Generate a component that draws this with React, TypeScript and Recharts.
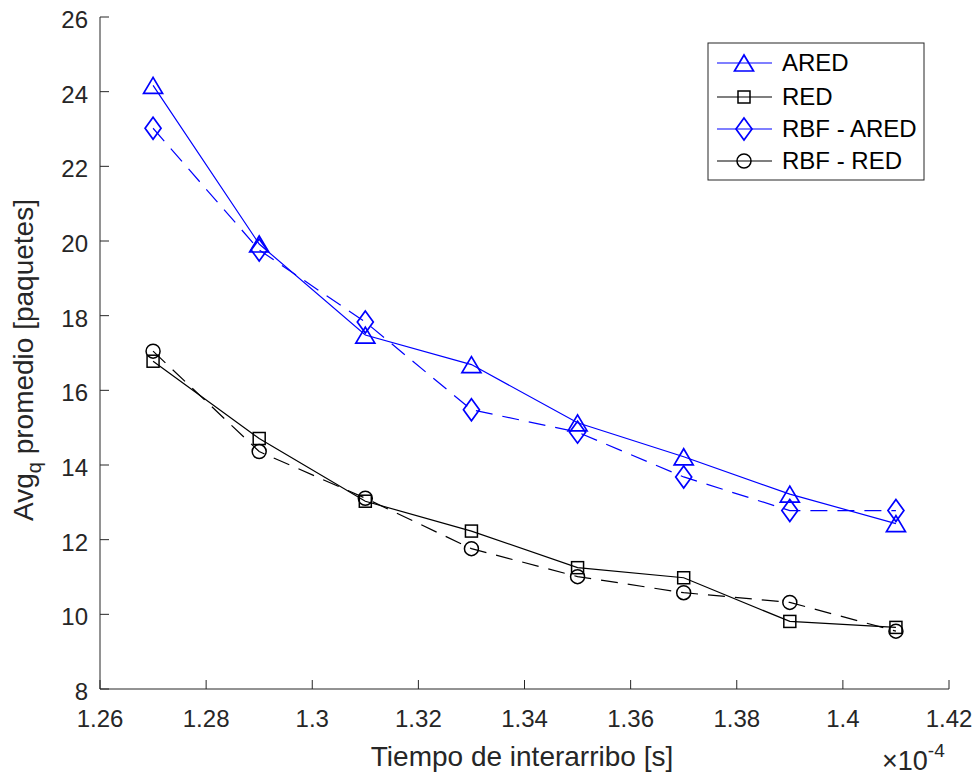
import { LineChart, Line, XAxis, YAxis } from 'recharts';

const tiempos = [1.27, 1.29, 1.31, 1.33, 1.35, 1.37, 1.39, 1.41];
const ared = [24.17, 19.92, 17.48, 16.69, 15.13, 14.22, 13.22, 12.43];
const red = [16.78, 14.71, 13.03, 12.23, 11.25, 10.98, 9.81, 9.65];
const rbfAred = [23.02, 19.76, 17.83, 15.48, 14.88, 13.68, 12.78, 12.78];
const rbfRed = [17.05, 14.36, 13.11, 11.76, 11.01, 10.58, 10.32, 9.55];

const xTicks = [1.26, 1.28, 1.3, 1.32, 1.34, 1.36, 1.38, 1.4, 1.42];
const yTicks = [8, 10, 12, 14, 16, 18, 20, 22, 24, 26];

const data = tiempos.map((t, i) => ({
  t,
  ared: ared[i],
  red: red[i],
  rbfAred: rbfAred[i],
  rbfRed: rbfRed[i],
}));

const FONT = '"Liberation Sans", Arial, Helvetica, sans-serif';
const INK = '#262626';
const BLUE = '#0000ff';
const BLACK = '#000000';
const TICK_LEN = 9;
const DASH = '17 10';

const fmt = (v: number) => String(Number(v.toFixed(2)));

// markers
function Triangle({ cx, cy, color }: any) {
  return <polygon points={`${cx},${cy - 8} ${cx - 9.5},${cy + 8} ${cx + 9.5},${cy + 8}`} fill="none" stroke={color} strokeWidth={1.7} />;
}
function Diamond({ cx, cy, color }: any) {
  return <polygon points={`${cx},${cy - 11} ${cx + 8},${cy} ${cx},${cy + 11} ${cx - 8},${cy}`} fill="none" stroke={color} strokeWidth={1.7} />;
}
function Square({ cx, cy, color }: any) {
  return <rect x={cx - 6} y={cy - 6} width={12} height={12} fill="none" stroke={color} strokeWidth={1.5} />;
}
function Circle({ cx, cy, color }: any) {
  return <circle cx={cx} cy={cy} r={7} fill="none" stroke={color} strokeWidth={1.5} />;
}

const dotFn = (Comp: any, color: string, name: string) => (p: any) =>
  <Comp key={`${name}-${p.index}`} cx={p.cx} cy={p.cy} color={color} />;

// axis ticks drawn inward, MATLAB style
function BottomTick({ x, y, payload }: any) {
  return (
    <g>
      <line x1={x} y1={y} x2={x} y2={y - TICK_LEN} stroke={INK} />
      <text x={x} y={y + 38} textAnchor="middle" fontSize={24} fill={INK} fontFamily={FONT}>{fmt(payload.value)}</text>
    </g>
  );
}
function LeftTick({ x, y, payload }: any) {
  return (
    <g>
      <line x1={x} y1={y} x2={x + TICK_LEN} y2={y} stroke={INK} />
      <text x={x - 12} y={y + 11} textAnchor="end" fontSize={24} fill={INK} fontFamily={FONT}>{payload.value}</text>
    </g>
  );
}
function TopTick({ x, y }: any) {
  return <line x1={x} y1={y} x2={x} y2={y + TICK_LEN} stroke={INK} />;
}
function RightTick({ x, y }: any) {
  return <line x1={x} y1={y} x2={x - TICK_LEN} y2={y} stroke={INK} />;
}

const legendItems = [
  { label: 'ARED', color: BLUE, Comp: Triangle },
  { label: 'RED', color: BLACK, Comp: Square },
  { label: 'RBF - ARED', color: BLUE, Comp: Diamond },
  { label: 'RBF - RED', color: BLACK, Comp: Circle },
];
const legendRows = [63, 97, 129, 161];

export default function App() {
  return (
    <div style={{ position: 'absolute', left: 0, top: 0, width: 977, height: 777, background: '#fff' }}>
      <LineChart width={977} height={777} data={data} margin={{ top: 17, right: 28, bottom: 38, left: 40 }}>
        <XAxis dataKey="t" type="number" domain={[1.26, 1.42]} ticks={xTicks} interval={0}
          height={50} tickSize={0} tickMargin={0} tickLine={false} stroke={INK} tick={<BottomTick />} />
        <XAxis xAxisId="top" orientation="top" dataKey="t" type="number" domain={[1.26, 1.42]} ticks={xTicks}
          interval={0} height={0} tickSize={0} tickMargin={0} tickLine={false} stroke={INK} tick={<TopTick />} />
        <YAxis type="number" domain={[8, 26]} ticks={yTicks} interval={0} width={60}
          tickSize={0} tickMargin={0} tickLine={false} stroke={INK} tick={<LeftTick />} />
        <YAxis yAxisId="right" orientation="right" type="number" domain={[8, 26]} ticks={yTicks} interval={0}
          width={0} tickSize={0} tickMargin={0} tickLine={false} stroke={INK} tick={<RightTick />} />
        <Line dataKey="ared" stroke={BLUE} strokeWidth={1.2} dot={dotFn(Triangle, BLUE, 'a')} activeDot={false} isAnimationActive={false} />
        <Line dataKey="red" stroke={BLACK} strokeWidth={1.2} dot={dotFn(Square, BLACK, 'r')} activeDot={false} isAnimationActive={false} />
        <Line dataKey="rbfAred" stroke={BLUE} strokeWidth={1.2} strokeDasharray={DASH} dot={dotFn(Diamond, BLUE, 'ra')} activeDot={false} isAnimationActive={false} />
        <Line dataKey="rbfRed" stroke={BLACK} strokeWidth={1.2} strokeDasharray={DASH} dot={dotFn(Circle, BLACK, 'rr')} activeDot={false} isAnimationActive={false} />
      </LineChart>

      <svg width={977} height={777} style={{ position: 'absolute', left: 0, top: 0, pointerEvents: 'none' }}>
        {/* legend */}
        <rect x={708} y={43} width={216} height={137} fill="#fff" stroke={INK} strokeWidth={1} />
        {legendItems.map((it, i) => (
          <g key={it.label}>
            <line x1={717} x2={772} y1={legendRows[i]} y2={legendRows[i]} stroke={it.color} strokeWidth={1.2} />
            <it.Comp cx={744} cy={legendRows[i]} color={it.color} />
            <text x={782} y={legendRows[i] + 8} fontSize={24} fill={BLACK} fontFamily={FONT}>{it.label}</text>
          </g>
        ))}

        {/* axis labels */}
        <text x={522} y={766} textAnchor="middle" fontSize={28} fill={INK} fontFamily={FONT}>Tiempo de interarribo [s]</text>
        <text transform="translate(33,360) rotate(-90)" textAnchor="middle" fontSize={28} fill={INK} fontFamily={FONT}>
          Avg<tspan dy={8} fontSize={20}>q</tspan><tspan dy={-8}>{'  promedio [paquetes]'}</tspan>
        </text>
        <text x={882} y={770} fontSize={27} fill={INK} fontFamily={FONT}>
          ×10<tspan dy={-13} fontSize={19}>-4</tspan>
        </text>
      </svg>
    </div>
  );
}
